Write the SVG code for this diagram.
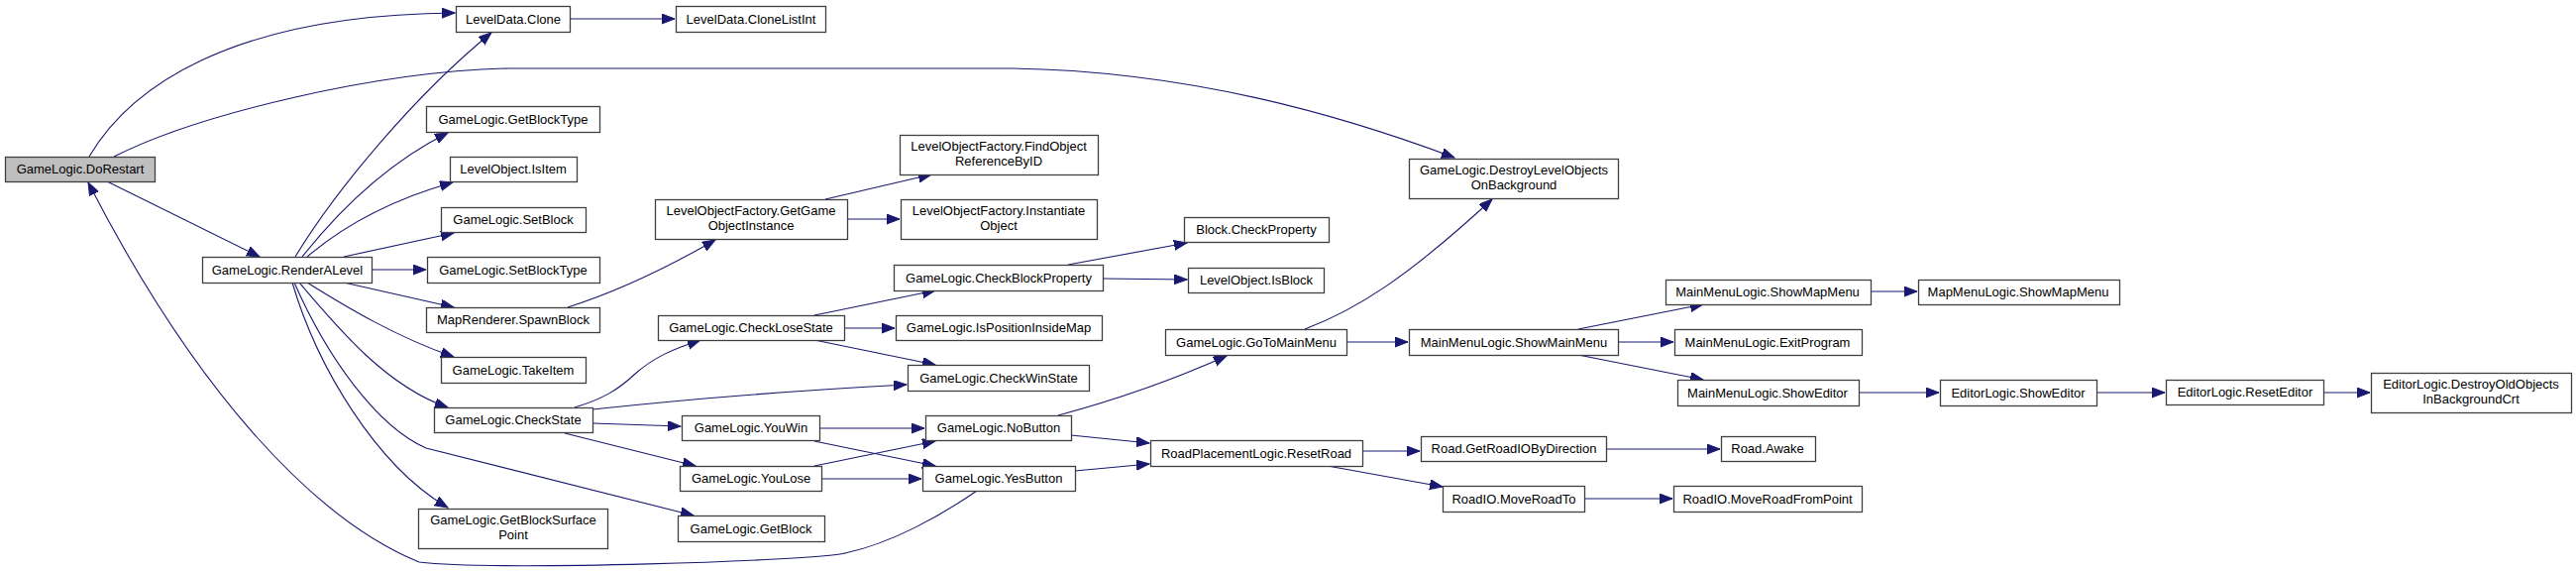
<svg xmlns="http://www.w3.org/2000/svg" width="2600" height="577" viewBox="0 0 2600 577">
<style>
  .n rect { fill: #ffffff; stroke: #404040; stroke-width: 1.3; }
  .n.root rect { fill: #bfbfbf; }
  .n text { font-family: "Liberation Sans", Arial, sans-serif; font-size: 13px; fill: #000000; text-anchor: middle; }
  .e path { fill: none; stroke: #191970; stroke-width: 1.1; marker-end: url(#arr); }
</style>
<defs>
  <marker id="arr" markerUnits="userSpaceOnUse" markerWidth="14" markerHeight="12" refX="13" refY="5" orient="auto">
    <path d="M0,0 L13,5 L0,10 Z" fill="#191970" stroke="#191970" stroke-width="1"/>
  </marker>
</defs>
<rect width="2600" height="577" fill="#ffffff"/>
<g id="edges" class="e">
  <path d="M90,158 C130,90 230,15 459,13"/>
  <path d="M115,158 C200,115 380,72 513,69 L1022,69 C1200,72 1350,115 1468,159"/>
  <path d="M108,183 L262,259"/>
  <path d="M986,495 C950,520 900,548 853,558 C820,566 500,576 423,567 C320,525 200,400 89,184"/>
  <path d="M298,259 C340,190 420,95 496,33"/>
  <path d="M305,259 C340,215 390,165 452,134"/>
  <path d="M310,259 C350,225 400,200 457,184"/>
  <path d="M347,259 L458,235"/>
  <path d="M375,272 L430,272"/>
  <path d="M347,285 L458,310"/>
  <path d="M310,285 C350,310 400,340 458,360"/>
  <path d="M302,285 C340,330 390,390 452,411"/>
  <path d="M297,285 C330,360 380,430 430,452 L700,520"/>
  <path d="M295,285 C320,370 380,470 452,512"/>
  <path d="M575,19 L681,19"/>
  <path d="M573,310 C620,295 670,272 722,242"/>
  <path d="M833,201 L940,176"/>
  <path d="M855,221 L908,221"/>
  <path d="M580,411 C610,402 625,392 640,378 C660,360 680,352 707,343"/>
  <path d="M598,413 C700,402 820,393 915,388"/>
  <path d="M598,427 L687,430"/>
  <path d="M570,437 L702,470"/>
  <path d="M822,318 L944,293"/>
  <path d="M852,331 L903,331"/>
  <path d="M822,343 L944,368"/>
  <path d="M1078,267 L1198,245"/>
  <path d="M1113,281 L1198,282"/>
  <path d="M827,432 L933,432"/>
  <path d="M822,445 L944,470"/>
  <path d="M822,470 L944,445"/>
  <path d="M829,483 L930,483"/>
  <path d="M1068,419 C1120,405 1180,385 1238,359"/>
  <path d="M1081,439 L1160,447"/>
  <path d="M1085,475 L1160,468"/>
  <path d="M1317,332 C1370,312 1420,280 1506,201"/>
  <path d="M1359,345 L1421,345"/>
  <path d="M1593,332 L1719,307"/>
  <path d="M1633,345 L1689,345"/>
  <path d="M1593,358 L1719,383"/>
  <path d="M1888,294 L1935,294"/>
  <path d="M1876,396 L1957,396"/>
  <path d="M2116,396 L2185,396"/>
  <path d="M2345,396 L2392,396"/>
  <path d="M1375,455 L1433,455"/>
  <path d="M1340,470 L1456,491"/>
  <path d="M1621,453 L1736,453"/>
  <path d="M1599,503 L1688,503"/>
</g>
<g id="n0" class="n root"><rect x="5.5" y="158.5" width="151" height="25"/><text x="81" y="175">GameLogic.DoRestart</text></g>
<g id="n1" class="n"><rect x="204.5" y="259.5" width="171" height="26"/><text x="290" y="277">GameLogic.RenderALevel</text></g>
<g id="n2" class="n"><rect x="460.5" y="6.5" width="115" height="26"/><text x="518" y="24">LevelData.Clone</text></g>
<g id="n3" class="n"><rect x="682.5" y="6.5" width="151" height="26"/><text x="758" y="24">LevelData.CloneListInt</text></g>
<g id="n4" class="n"><rect x="430.5" y="107.5" width="175" height="26"/><text x="518" y="125">GameLogic.GetBlockType</text></g>
<g id="n5" class="n"><rect x="454.5" y="158.5" width="128" height="25"/><text x="518" y="175">LevelObject.IsItem</text></g>
<g id="n6" class="n"><rect x="445.5" y="209.5" width="146" height="25"/><text x="518" y="226">GameLogic.SetBlock</text></g>
<g id="n7" class="n"><rect x="431.5" y="259.5" width="174" height="26"/><text x="518" y="277">GameLogic.SetBlockType</text></g>
<g id="n8" class="n"><rect x="430.5" y="310.5" width="175" height="25"/><text x="518" y="327">MapRenderer.SpawnBlock</text></g>
<g id="n9" class="n"><rect x="445.5" y="360.5" width="146" height="26"/><text x="518" y="378">GameLogic.TakeItem</text></g>
<g id="n10" class="n"><rect x="438.5" y="411.5" width="160" height="25"/><text x="518" y="428">GameLogic.CheckState</text></g>
<g id="n11" class="n"><rect x="422.5" y="513.5" width="191" height="40"/><text x="518" y="529">GameLogic.GetBlockSurface</text><text x="518" y="544">Point</text></g>
<g id="n12" class="n"><rect x="661.5" y="201.5" width="194" height="40"/><text x="758" y="217">LevelObjectFactory.GetGame</text><text x="758" y="232">ObjectInstance</text></g>
<g id="n13" class="n"><rect x="664.5" y="318.5" width="188" height="25"/><text x="758" y="335">GameLogic.CheckLoseState</text></g>
<g id="n14" class="n"><rect x="688.5" y="419.5" width="139" height="25"/><text x="758" y="436">GameLogic.YouWin</text></g>
<g id="n15" class="n"><rect x="686.5" y="470.5" width="143" height="25"/><text x="758" y="487">GameLogic.YouLose</text></g>
<g id="n16" class="n"><rect x="684.5" y="520.5" width="148" height="26"/><text x="758" y="538">GameLogic.GetBlock</text></g>
<g id="n17" class="n"><rect x="908.5" y="136.5" width="200" height="40"/><text x="1008" y="152">LevelObjectFactory.FindObject</text><text x="1008" y="167">ReferenceByID</text></g>
<g id="n18" class="n"><rect x="909.5" y="201.5" width="198" height="40"/><text x="1008" y="217">LevelObjectFactory.Instantiate</text><text x="1008" y="232">Object</text></g>
<g id="n19" class="n"><rect x="902.5" y="267.5" width="211" height="26"/><text x="1008" y="285">GameLogic.CheckBlockProperty</text></g>
<g id="n20" class="n"><rect x="904.5" y="318.5" width="208" height="25"/><text x="1008" y="335">GameLogic.IsPositionInsideMap</text></g>
<g id="n21" class="n"><rect x="916.5" y="368.5" width="183" height="26"/><text x="1008" y="386">GameLogic.CheckWinState</text></g>
<g id="n22" class="n"><rect x="934.5" y="419.5" width="147" height="25"/><text x="1008" y="436">GameLogic.NoButton</text></g>
<g id="n23" class="n"><rect x="931.5" y="470.5" width="154" height="25"/><text x="1008" y="487">GameLogic.YesButton</text></g>
<g id="n24" class="n"><rect x="1195.5" y="219.5" width="146" height="25"/><text x="1268" y="236">Block.CheckProperty</text></g>
<g id="n25" class="n"><rect x="1199.5" y="270.5" width="137" height="25"/><text x="1268" y="287">LevelObject.IsBlock</text></g>
<g id="n26" class="n"><rect x="1176.5" y="332.5" width="183" height="26"/><text x="1268" y="350">GameLogic.GoToMainMenu</text></g>
<g id="n27" class="n"><rect x="1161.5" y="444.5" width="214" height="26"/><text x="1268" y="462">RoadPlacementLogic.ResetRoad</text></g>
<g id="n28" class="n"><rect x="1422.5" y="160.5" width="211" height="40"/><text x="1528" y="176">GameLogic.DestroyLevelObjects</text><text x="1528" y="191">OnBackground</text></g>
<g id="n29" class="n"><rect x="1422.5" y="332.5" width="211" height="26"/><text x="1528" y="350">MainMenuLogic.ShowMainMenu</text></g>
<g id="n30" class="n"><rect x="1434.5" y="440.5" width="187" height="25"/><text x="1528" y="457">Road.GetRoadIOByDirection</text></g>
<g id="n31" class="n"><rect x="1456.5" y="490.5" width="143" height="26"/><text x="1528" y="508">RoadIO.MoveRoadTo</text></g>
<g id="n32" class="n"><rect x="1681.5" y="282.5" width="207" height="25"/><text x="1784" y="299">MainMenuLogic.ShowMapMenu</text></g>
<g id="n33" class="n"><rect x="1690.5" y="332.5" width="189" height="26"/><text x="1784" y="350">MainMenuLogic.ExitProgram</text></g>
<g id="n34" class="n"><rect x="1693.5" y="383.5" width="183" height="26"/><text x="1784" y="401">MainMenuLogic.ShowEditor</text></g>
<g id="n35" class="n"><rect x="1737.5" y="440.5" width="95" height="25"/><text x="1784" y="457">Road.Awake</text></g>
<g id="n36" class="n"><rect x="1689.5" y="490.5" width="190" height="26"/><text x="1784" y="508">RoadIO.MoveRoadFromPoint</text></g>
<g id="n37" class="n"><rect x="1936.5" y="282.5" width="203" height="25"/><text x="2037" y="299">MapMenuLogic.ShowMapMenu</text></g>
<g id="n38" class="n"><rect x="1958.5" y="383.5" width="158" height="26"/><text x="2037" y="401">EditorLogic.ShowEditor</text></g>
<g id="n39" class="n"><rect x="2186.5" y="383.5" width="159" height="25"/><text x="2266" y="400">EditorLogic.ResetEditor</text></g>
<g id="n40" class="n"><rect x="2393.5" y="376.5" width="202" height="40"/><text x="2494" y="392">EditorLogic.DestroyOldObjects</text><text x="2494" y="407">InBackgroundCrt</text></g>
</svg>
